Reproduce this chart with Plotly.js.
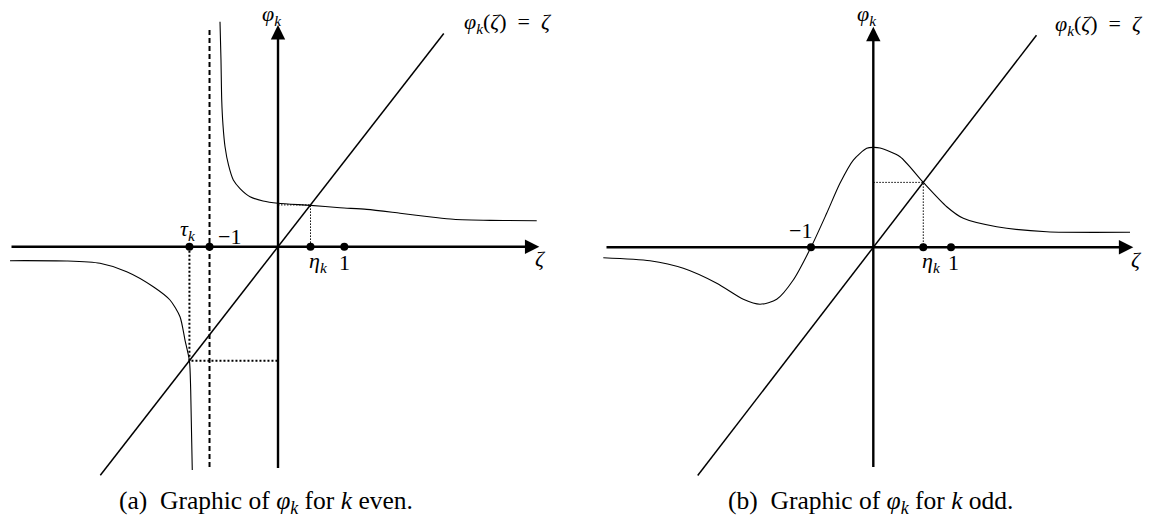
<!DOCTYPE html>
<html>
<head>
<meta charset="utf-8">
<script src="https://cdn.plot.ly/plotly-3.0.1.min.js"></script>
<style>body{margin:0;background:#fff}</style>
</head>
<body>
<div id="graf" style="width:1157px;height:523px"></div>
<script>
// (a) k even : two branches, vertical asymptote at -1
var evenUpperX = [-0.875, -0.860, -0.849, -0.830, -0.799, -0.747, -0.674, -0.573, -0.422, -0.226, 0, 0.49, 0.935, 1.338, 1.840, 2.342, 2.644, 3.198, 3.902];
var evenUpperY = [2.638, 2.189, 1.720, 1.427, 1.172, 0.958, 0.782, 0.682, 0.586, 0.536, 0.509, 0.485, 0.456, 0.438, 0.392, 0.345, 0.321, 0.309, 0.305];
var evenLowerX = [-4.042, -3.187, -2.685, -2.282, -1.881, -1.629, -1.478, -1.403, -1.336, -1.317, -1.293];
var evenLowerY = [-0.164, -0.168, -0.195, -0.293, -0.469, -0.625, -0.821, -1.094, -1.336, -1.680, -2.618];
var evenDiag = [-2.68, 2.50];
var evenAsym = -1.033;
var evenTau = -1.336;
var evenEta = 0.49;
var evenDots = [-1.336, -1.033, 0.49, 1];

// (b) k odd
var oddX = [-3.475, -2.874, -2.445, -2.015, -1.673, -1.458, -1.243, -1.030, -0.802, -0.600, -0.429, -0.257, -0.085, 0, 0.086, 0.344, 0.643, 0.945, 1.158, 1.588, 2.232, 3.304];
var oddY = [-0.103, -0.133, -0.208, -0.356, -0.515, -0.564, -0.515, -0.324, 0, 0.337, 0.634, 0.864, 0.980, 0.990, 0.983, 0.897, 0.643, 0.402, 0.287, 0.204, 0.154, 0.149];
var oddDiag = [-2.26, 2.10];
var oddEta = 0.643;
var oddDots = [-0.802, 0.643, 1];

var serif = 'Liberation Serif';
var black = '#000';

function line(x, y, w, dash, ax, shape) {
  return {x: x, y: y, type: 'scatter', mode: 'lines', xaxis: ax[0], yaxis: ax[1],
    line: {color: black, width: w, dash: dash || 'solid', shape: shape || 'linear', smoothing: 0.7},
    hoverinfo: 'skip'};
}
function dots(x, ax) {
  return {x: x, y: x.map(function () { return 0; }), type: 'scatter', mode: 'markers',
    xaxis: ax[0], yaxis: ax[1], marker: {color: black, size: 8}, hoverinfo: 'skip'};
}

var A = ['x', 'y'], B = ['x2', 'y2'];
var data = [
  line(evenDiag, evenDiag, 1.5, null, A),
  line(evenUpperX, evenUpperY, 1.1, null, A, 'spline'),
  line(evenLowerX, evenLowerY, 1.1, null, A, 'spline'),
  line([evenAsym, evenAsym], [-2.583, 2.576], 2, '5px,3px', A),
  line([evenTau, evenTau, 0], [0, evenTau, evenTau], 2, '2px,2px', A),
  line([0, evenEta, evenEta], [evenEta, evenEta, 0], 1, '1.5px,1.5px', A),
  dots(evenDots, A),
  line(oddDiag, oddDiag, 1.5, null, B),
  line(oddX, oddY, 1.1, null, B, 'spline'),
  line([0, oddEta, oddEta], [oddEta, oddEta, 0], 1, '1.5px,1.5px', B),
  dots(oddDots, B)
];

function arrow(xr, yr, x, y, ax, ay) {
  return {xref: xr, yref: yr, axref: xr, ayref: yr, x: x, y: y, ax: ax, ay: ay,
    text: ' ', font: {size: 1}, showarrow: true, arrowhead: 2, arrowwidth: 2.4,
    arrowsize: 1.2, arrowcolor: black, standoff: 0, startstandoff: 0};
}
function label(xr, yr, x, y, txt, size) {
  return {xref: xr, yref: yr, x: x, y: y, text: txt, showarrow: false,
    xanchor: 'center', yanchor: 'middle', font: {family: serif, size: size || 22, color: black}};
}

var phik = '<i>φ</i><sub><i>k</i></sub>';
var ident = phik + '(<i>ζ</i>)\u2002=\u2002<i>ζ</i>';
var annotations = [
  arrow('x', 'y', 3.941, 0, -4.042, 0),
  arrow('x', 'y', 0, 2.599, 0, -2.618),
  arrow('x2', 'y2', 3.346, 0, -3.453, 0),
  arrow('x2', 'y2', 0, 2.184, 0, -2.195),

  label('x', 'y', -0.09, 2.716, phik),
  label('x', 'y', 3.469, 2.623, ident),
  label('x', 'y', -1.353, 0.196, '<i>τ</i><sub><i>k</i></sub>'),
  label('x', 'y', -0.739, 0.117, '−1'),
  label('x', 'y', 0.608, -0.176, '<i>η</i><sub><i>k</i></sub>'),
  label('x', 'y', 1.0, -0.191, '1'),
  label('x', 'y', 3.952, -0.144, '<i>ζ</i>'),

  label('x2', 'y2', -0.085, 2.300, phik),
  label('x2', 'y2', 2.905, 2.201, ident),
  label('x2', 'y2', -0.943, 0.171, '−1'),
  label('x2', 'y2', 0.743, -0.146, '<i>η</i><sub><i>k</i></sub>'),
  label('x2', 'y2', 1.026, -0.146, '1'),
  label('x2', 'y2', 3.390, -0.116, '<i>ζ</i>'),

  label('paper', 'paper', 0.2299, 0.04, '(a)  Graphic of ' + phik + ' for <i>k</i> even.', 25.5),
  label('paper', 'paper', 0.7528, 0.04, '(b)  Graphic of ' + phik + ' for <i>k</i> odd.', 25.5)
];

var hidden = {visible: false, fixedrange: true};
var layout = {
  width: 1157, height: 523,
  margin: {l: 0, r: 0, t: 0, b: 0},
  paper_bgcolor: '#fff', plot_bgcolor: 'rgba(0,0,0,0)',
  showlegend: false,
  xaxis: Object.assign({domain: [0, 0.5], range: [-4.193, 4.532]}, hidden),
  yaxis: Object.assign({domain: [0, 1], range: [-3.239, 2.892]}, hidden),
  xaxis2: Object.assign({domain: [0.5, 1], range: [-3.794, 3.651]}, hidden),
  yaxis2: Object.assign({domain: [0, 1], range: [-2.730, 2.449], anchor: 'x2'}, hidden),
  annotations: annotations
};
data.forEach(function (t) { t.cliponaxis = false; });

Plotly.newPlot('graf', data, layout, {staticPlot: true});
</script>
</body>
</html>
